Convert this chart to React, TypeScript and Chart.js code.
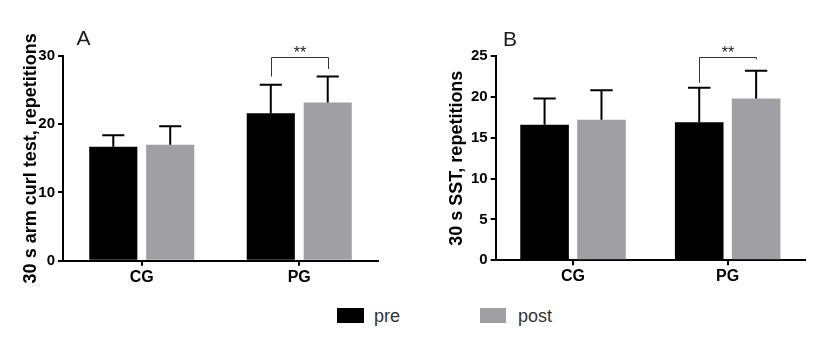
import React, { useEffect, useRef } from "react";
import { Chart, registerables } from "chart.js";

Chart.register(...registerables);

// ---------- data ----------
const categories = ["CG", "PG"];
const seriesNames = ["pre", "post"];

// Panel A: 30 s arm curl test
const armCurlPre = [16.7, 21.6];
const armCurlPost = [17.0, 23.2];
const armCurlPreErr = [1.7, 4.2];
const armCurlPostErr = [2.7, 3.8];
const armCurlTicks = [0, 10, 20, 30];
// significance bracket (category, top, left leg end, right leg end)
const armCurlBracket = { category: "PG", top: 29.9, leftEnd: 27.0, rightEnd: 28.1, label: "**" };

// Panel B: 30 s SST
const sstPre = [16.6, 16.9];
const sstPost = [17.2, 19.8];
const sstPreErr = [3.2, 4.2];
const sstPostErr = [3.6, 3.4];
const sstTicks = [0, 5, 10, 15, 20, 25];
const sstBracket = { category: "PG", top: 24.9, leftEnd: 21.7, rightEnd: 24.6, label: "**" };

const PRE_COLOR = "#000000";
const POST_COLOR = "#a0a0a4";
const FONT = "'Liberation Sans', Arial, Helvetica, sans-serif";

// ---------- plugins ----------
const errorBarPlugin = {
  id: "errorBars",
  afterDatasetsDraw(chart: any) {
    const ctx = chart.ctx;
    const y = chart.scales.y;
    chart.data.datasets.forEach((ds: any, i: number) => {
      const meta = chart.getDatasetMeta(i);
      meta.data.forEach((bar: any, j: number) => {
        const v = ds.data[j];
        const e = ds.errorBars ? ds.errorBars[j] : 0;
        const top = y.getPixelForValue(v + e);
        const half = bar.width * 0.23;
        ctx.save();
        ctx.strokeStyle = "#000";
        ctx.lineWidth = 2;
        ctx.beginPath();
        ctx.moveTo(bar.x, bar.y);
        ctx.lineTo(bar.x, top);
        ctx.moveTo(bar.x - half, top);
        ctx.lineTo(bar.x + half, top);
        ctx.stroke();
        ctx.restore();
      });
    });
  },
};

const bracketPlugin = {
  id: "sigBracket",
  afterDatasetsDraw(chart: any, _args: any, opts: any) {
    if (!opts || !opts.category) return;
    const idx = chart.data.labels.indexOf(opts.category);
    if (idx < 0) return;
    const y = chart.scales.y;
    const b0 = chart.getDatasetMeta(0).data[idx];
    const b1 = chart.getDatasetMeta(1).data[idx];
    const xL = Math.round(b0.x) + 0.5;
    const xR = Math.round(b1.x) + 0.5;
    const yTop = Math.round(y.getPixelForValue(opts.top)) + 0.5;
    const yL = y.getPixelForValue(opts.leftEnd);
    const yR = y.getPixelForValue(opts.rightEnd);
    const ctx = chart.ctx;
    ctx.save();
    ctx.strokeStyle = "#333";
    ctx.lineWidth = 1;
    ctx.beginPath();
    ctx.moveTo(xL, yL);
    ctx.lineTo(xL, yTop);
    ctx.lineTo(xR, yTop);
    ctx.lineTo(xR, yR);
    ctx.stroke();
    ctx.fillStyle = "#222";
    ctx.font = `16px ${FONT}`;
    ctx.textAlign = "center";
    ctx.textBaseline = "alphabetic";
    ctx.fillText(opts.label, (xL + xR) / 2, yTop + 0.5);
    ctx.restore();
  },
};

// ---------- chart panel ----------
type PanelProps = {
  left: number;
  width: number;
  height: number;
  pre: number[];
  post: number[];
  preErr: number[];
  postErr: number[];
  ticks: number[];
  title: string;
  bracket: any;
  area: { left: number; right: number; top: number; bottom: number };
  titleX: number;
  catPct: number;
  barPct: number;
};

function Panel(p: PanelProps) {
  const ref = useRef<HTMLCanvasElement | null>(null);
  useEffect(() => {
    if (!ref.current) return;
    const tickMin = p.ticks[0];
    const tickMax = p.ticks[p.ticks.length - 1];
    const step = p.ticks[1] - p.ticks[0];
    const titleSize = 18;
    const chart = new Chart(ref.current, {
      type: "bar",
      data: {
        labels: categories,
        datasets: [
          {
            label: seriesNames[0],
            data: p.pre,
            errorBars: p.preErr,
            backgroundColor: PRE_COLOR,
            borderWidth: 0,
            categoryPercentage: p.catPct,
            barPercentage: p.barPct,
          } as any,
          {
            label: seriesNames[1],
            data: p.post,
            errorBars: p.postErr,
            backgroundColor: POST_COLOR,
            borderWidth: 0,
            categoryPercentage: p.catPct,
            barPercentage: p.barPct,
          } as any,
        ],
      },
      options: {
        animation: false,
        responsive: false,
        maintainAspectRatio: false,
        devicePixelRatio: 1,
        layout: {
          padding: {
            left: 0,
            right: p.width - p.area.right,
            top: p.area.top,
            bottom: 0,
          },
        },
        plugins: {
          legend: { display: false },
          tooltip: { enabled: false },
          sigBracket: p.bracket,
        } as any,
        scales: {
          x: {
            offset: true,
            grid: {
              offset: false,
              drawOnChartArea: false,
              drawTicks: true,
              tickLength: 5,
              tickWidth: 2,
              tickColor: "#000",
              color: "#000",
              lineWidth: 2,
            },
            border: { display: true, color: "#000", width: 2 },
            ticks: {
              color: "#000",
              font: { family: FONT, size: 16, weight: "bold" },
              padding: 2,
            },
            afterFit: (scale: any) => {
              scale.height = p.height - p.area.bottom;
            },
          },
          y: {
            min: tickMin,
            max: tickMax,
            grid: {
              drawOnChartArea: false,
              drawTicks: true,
              tickLength: 5,
              tickWidth: 2,
              tickColor: "#000",
              color: "#000",
              lineWidth: 2,
            },
            border: { display: true, color: "#000", width: 2 },
            ticks: {
              stepSize: step,
              color: "#000",
              font: { family: FONT, size: 15, weight: "bold" },
              padding: 3,
            },
            title: {
              display: true,
              text: p.title,
              color: "#000",
              font: { family: FONT, size: titleSize, weight: "bold" },
              padding: { top: p.titleX - titleSize * 0.6, bottom: 0 },
            },
            afterFit: (scale: any) => {
              scale.width = p.area.left;
            },
          },
        },
      },
      plugins: [errorBarPlugin, bracketPlugin],
    });
    return () => chart.destroy();
  }, []);
  return (
    <div style={{ position: "absolute", left: p.left, top: 0, width: p.width, height: p.height }}>
      <canvas ref={ref} width={p.width} height={p.height} style={{ display: "block" }} />
    </div>
  );
}

export default function App() {
  const W = 410;
  const H = 300;
  const textStyle: React.CSSProperties = {
    position: "absolute",
    fontFamily: FONT,
    whiteSpace: "nowrap",
  };
  return (
    <div
      style={{
        position: "absolute",
        left: 0,
        top: 0,
        width: 825,
        height: 346,
        background: "#fff",
        overflow: "hidden",
      }}
    >
      <Panel
        left={0}
        width={W}
        height={H}
        pre={armCurlPre}
        post={armCurlPost}
        preErr={armCurlPreErr}
        postErr={armCurlPostErr}
        ticks={armCurlTicks}
        title="30 s arm curl test, repetitions"
        bracket={armCurlBracket}
        area={{ left: 63, right: 378, top: 56, bottom: 260.7 }}
        titleX={31}
        catPct={0.723}
        barPct={0.845}
      />
      <Panel
        left={415}
        width={W}
        height={H}
        pre={sstPre}
        post={sstPost}
        preErr={sstPreErr}
        postErr={sstPostErr}
        ticks={sstTicks}
        title="30 s SST, repetitions"
        bracket={sstBracket}
        area={{ left: 80.7, right: 390, top: 56, bottom: 260.3 }}
        titleX={42}
        catPct={0.736}
        barPct={0.854}
      />
      <div style={{ ...textStyle, left: 76.5, top: 27.3, fontSize: 21, lineHeight: "21px", color: "#1a1a1a" }}>A</div>
      <div style={{ ...textStyle, left: 503, top: 28.3, fontSize: 21, lineHeight: "21px", color: "#1a1a1a" }}>B</div>

      <div style={{ position: "absolute", left: 337, top: 308, width: 27, height: 15, background: PRE_COLOR }} />
      <div style={{ ...textStyle, left: 374, top: 306, fontSize: 18, lineHeight: "20px", color: "#333" }}>
        {seriesNames[0]}
      </div>
      <div style={{ position: "absolute", left: 480, top: 308, width: 26, height: 15, background: POST_COLOR }} />
      <div style={{ ...textStyle, left: 518, top: 306, fontSize: 18, lineHeight: "20px", color: "#333" }}>
        {seriesNames[1]}
      </div>
    </div>
  );
}
